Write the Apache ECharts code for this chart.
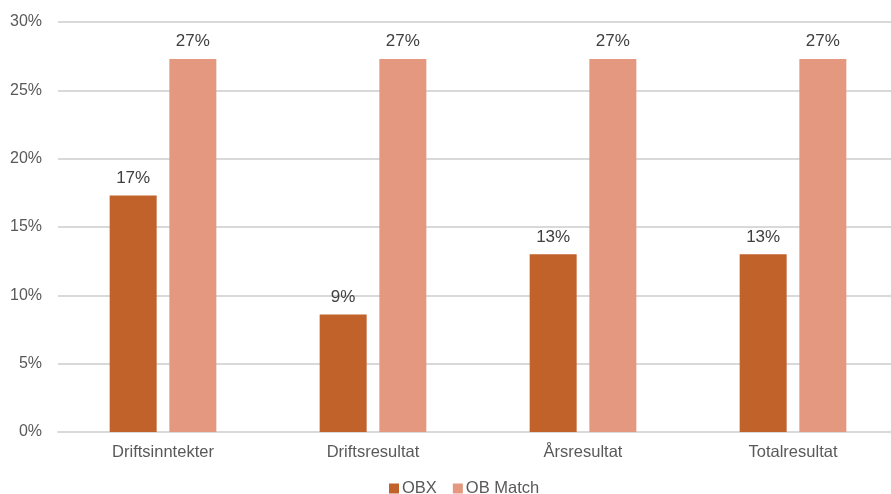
<!DOCTYPE html>
<html>
<head>
<meta charset="utf-8">
<script src="https://cdn.jsdelivr.net/npm/echarts@6/dist/echarts.min.js"></script>
<style>
  html, body { margin: 0; padding: 0; background: #fff; overflow: hidden; }
  /* plottet går litt forbi høyre kant, som i originalen */
  #chart { width: 898px; height: 494px; }
</style>
</head>
<body>
<div id="chart"></div>
<script>
// kategorier og verdier (prosent)
const categories = ['Driftsinntekter', 'Driftsresultat', 'Årsresultat', 'Totalresultat']
const obxValues = [17.3, 8.6, 13.0, 13.0]
const obMatchValues = [27.3, 27.3, 27.3, 27.3]
const seriesNames = ['OBX', 'OB Match']

const chart = echarts.init(document.getElementById('chart'))

const labelStyle = {
  show: true,
  position: 'top',
  distance: 9,
  color: '#404040',
  fontSize: 17,
  fontFamily: 'Liberation Sans, Arial, sans-serif',
  formatter: p => Math.round(p.value) + '%'
}

const option = {
  animation: false,
  textStyle: { fontFamily: 'Liberation Sans, Arial, sans-serif' },
  grid: { left: 58, right: 0, top: 22, bottom: 62 },
  legend: {
    data: seriesNames,
    top: 475,
    left: 384,
    itemWidth: 10,
    itemHeight: 10,
    itemGap: 16,
    icon: 'rect',
    textStyle: { color: '#595959', fontSize: 16.5, padding: [0, 0, 0, -2] }
  },
  xAxis: {
    type: 'category',
    data: categories,
    axisLine: { show: true, lineStyle: { color: '#d9d9d9', width: 2 } },
    axisTick: { show: false },
    axisLabel: { color: '#595959', fontSize: 16.5, margin: 12 }
  },
  yAxis: {
    type: 'value',
    min: 0,
    max: 30,
    interval: 5,
    axisLine: { show: false },
    axisTick: { show: false },
    axisLabel: { color: '#595959', fontSize: 16, margin: 16, formatter: '{value}%' },
    splitLine: { lineStyle: { color: '#d9d9d9', width: 2 } }
  },
  series: [
    {
      name: seriesNames[0],
      type: 'bar',
      data: obxValues,
      barWidth: 47,
      barGap: '27%',
      itemStyle: { color: '#c0622a' },
      label: labelStyle
    },
    {
      name: seriesNames[1],
      type: 'bar',
      data: obMatchValues,
      barWidth: 47,
      itemStyle: { color: '#e3987f' },
      label: labelStyle
    }
  ]
}

chart.setOption(option)
</script>
</body>
</html>
